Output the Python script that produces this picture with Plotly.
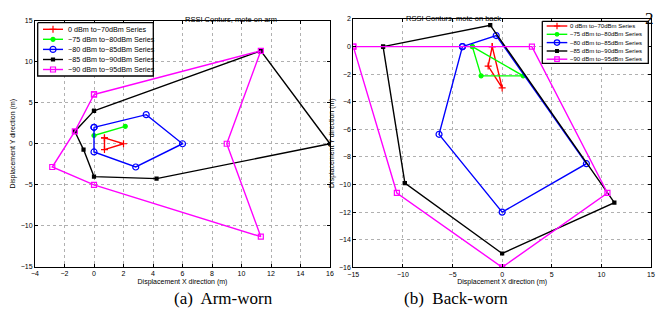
import plotly.graph_objects as go

# ---------------- data ----------------
series_names = ["0 dBm to\u221270dBm Series", "\u221275 dBm to\u221280dBm Series",
                "\u221280 dBm to\u221285dBm Series", "\u221285 dBm to\u221290dBm Series",
                "\u221290 dBm to\u221295dBm Series"]

# (a) arm-worn
arm_red_x = [0.71, 2.0, 0.71, 0.71]
arm_red_y = [0.71, 0.0, -0.71, 0.71]
arm_green_x = [0.0, 2.12]
arm_green_y = [1.0, 2.12]
arm_blue_x = [0.0, 3.54, 6.0, 2.83, 0.0, 0.0]
arm_blue_y = [2.0, 3.54, 0.0, -2.83, -1.0, 2.0]
arm_black_x = [0.0, 11.31, 16.0, 4.24, 0.0, -0.71, -1.3, 0.0]
arm_black_y = [4.0, 11.31, 0.0, -4.24, -4.0, -0.71, 1.5, 4.0]
arm_pink_x = [0.0, 11.31, 9.0, 11.31, 0.0, -2.83, -1.3, 0.0]
arm_pink_y = [6.0, 11.31, 0.0, -11.31, -5.0, -2.83, 1.5, 6.0]

# (b) back-worn
back_red_x = [-1.0, -1.41, 0.0, -1.0]
back_red_y = [0.0, -1.41, -3.0, 0.0]
back_green_x = [-3.0, -2.12, 2.12, -3.0]
back_green_y = [0.0, -2.12, -2.12, 0.0]
back_blue_x = [-4.0, -0.6, 8.49, 0.0, -6.36, -4.0]
back_blue_y = [0.0, 0.8, -8.49, -12.0, -6.36, 0.0]
back_black_x = [-12.0, -1.2, 11.31, 0.0, -9.8, -12.0]
back_black_y = [0.0, 1.55, -11.31, -15.0, -9.9, 0.0]
back_pink_x = [-15.0, 3.0, 10.61, 0.0, -10.61, -15.0]
back_pink_y = [0.0, 0.0, -10.61, -16.0, -10.61, 0.0]

arm_xticks = list(range(-4, 17, 2))
arm_yticks = list(range(-15, 16, 5))
back_xticks = list(range(-15, 16, 5))
back_yticks = list(range(-16, 3, 2))

# ---------------- styles ----------------
colors = ["#ff0000", "#00ff00", "#0000ff", "#000000", "#ff00ff"]
symbols = ["cross-thin-open", "circle", "circle-open", "square", "square-open"]
msizes = [5, 4, 6, 3, 5]
FONT = "Liberation Sans, Arial, sans-serif"
SERIF = "Liberation Serif, Times New Roman, serif"

# page places the figure 8px in from the window's top-left corner
OFF = 8
W, H = 668 - OFF, 325 - OFF


def px(x):
    return (x - OFF) / W


def py(y):
    return 1 - (y - OFF) / H


fig = go.Figure()

arm = [(arm_red_x, arm_red_y), (arm_green_x, arm_green_y), (arm_blue_x, arm_blue_y),
       (arm_black_x, arm_black_y), (arm_pink_x, arm_pink_y)]
back = [(back_red_x, back_red_y), (back_green_x, back_green_y), (back_blue_x, back_blue_y),
        (back_black_x, back_black_y), (back_pink_x, back_pink_y)]


def series_trace(xs, ys, i, xa, ya):
    return go.Scatter(x=xs, y=ys, mode="lines+markers", name=series_names[i],
                      line=dict(color=colors[i], width=1.4),
                      marker=dict(symbol=symbols[i], size=msizes[i], color=colors[i],
                                  line=dict(color=colors[i], width=1.2)),
                      xaxis=xa, yaxis=ya, showlegend=False)


for i, (xs, ys) in enumerate(arm):
    fig.add_trace(series_trace(xs, ys, i, "x", "y"))
for i, (xs, ys) in enumerate(back):
    fig.add_trace(series_trace(xs, ys, i, "x2", "y2"))


# ---------- compact MATLAB-style legends (drawn on a hidden pixel overlay) ----------
def add_legend(box, rows, lx0, lx1, tx, fsize, mscale):
    x0, y0, x1, y1 = box
    fig.add_trace(go.Scatter(x=[x0, x1, x1, x0, x0], y=[y0, y0, y1, y1, y0], mode="lines",
                             fill="toself", fillcolor="white",
                             line=dict(color="black", width=1.3),
                             xaxis="x3", yaxis="y3", hoverinfo="skip", showlegend=False))
    for i, yy in enumerate(rows):
        fig.add_trace(go.Scatter(x=[lx0, lx1], y=[yy, yy], mode="lines",
                                 line=dict(color=colors[i], width=1.4),
                                 xaxis="x3", yaxis="y3", hoverinfo="skip", showlegend=False))
        fig.add_trace(go.Scatter(x=[(lx0 + lx1) / 2], y=[yy], mode="markers",
                                 marker=dict(symbol=symbols[i], size=msizes[i] * mscale,
                                             color=colors[i],
                                             line=dict(color=colors[i], width=1.2)),
                                 xaxis="x3", yaxis="y3", hoverinfo="skip", showlegend=False))
        fig.add_annotation(text=series_names[i], x=tx, y=yy, xref="x3", yref="y3",
                           xanchor="left", yanchor="middle", showarrow=False,
                           font=dict(size=fsize, family=FONT, color="black"))


add_legend((37.7, 22.7, 153.3, 76.0), [29.3, 39.3, 49.4, 59.5, 69.5],
           43.0, 63.0, 65.5, 7.2, 1.0)
add_legend((542.3, 21.3, 648.3, 63.3), [26.0, 34.3, 42.6, 51.0, 59.2],
           546.7, 567.3, 567.8, 6.0, 0.9)

axis_common = dict(showline=True, mirror="ticks", linecolor="black", linewidth=1,
                   ticks="inside", ticklen=3, tickcolor="black", automargin=False,
                   showgrid=True, gridcolor="#b0b0b0", griddash="dot", gridwidth=1,
                   zeroline=False, tickfont=dict(size=7, color="black", family=FONT),
                   title_font=dict(size=7, color="black", family=FONT))

fig.update_layout(
    width=W, height=H,
    paper_bgcolor="white", plot_bgcolor="rgba(0,0,0,0)",
    margin=dict(l=0, r=0, t=0, b=0, autoexpand=False),
    font=dict(family=FONT, color="black"),
    showlegend=False,
    xaxis=dict(domain=[px(35), px(330)], range=[-4, 16], tickvals=arm_xticks,
               title=dict(text="Displacement X direction (m)", standoff=2), anchor="y",
               **axis_common),
    yaxis=dict(domain=[py(267), py(20.5)], range=[-15, 15], tickvals=arm_yticks,
               title=dict(text="Displacement Y direction (m)", standoff=4), anchor="x",
               **axis_common),
    xaxis2=dict(domain=[px(353.3), px(651)], range=[-15, 15], tickvals=back_xticks,
                title=dict(text="Displacement X direction (m)", standoff=2), anchor="y2",
                **axis_common),
    yaxis2=dict(domain=[py(267.3), py(19)], range=[-16, 2], tickvals=back_yticks,
                title=dict(text="Displacement Y direction (m)", standoff=3), anchor="x2",
                **axis_common),
    xaxis3=dict(domain=[0, 1], range=[OFF, 668], visible=False, anchor="y3", fixedrange=True,
                automargin=False),
    yaxis3=dict(domain=[0, 1], range=[325, OFF], visible=False, anchor="x3", fixedrange=True,
                automargin=False),
)

fig.add_annotation(text="RSSI Conturs, mote on arm", x=px(182.5), y=py(12.7),
                   xref="paper", yref="paper", showarrow=False,
                   font=dict(size=7.5, family=FONT, color="black"))
fig.add_annotation(text="RSSI Conturs, mote on back", x=px(502.5), y=py(11.7),
                   xref="paper", yref="paper", showarrow=False,
                   font=dict(size=7.5, family=FONT, color="black"))
fig.add_annotation(text="(a)  Arm-worn", x=px(172), y=py(310),
                   xref="paper", yref="paper", showarrow=False,
                   font=dict(size=17, family=SERIF, color="black"))
fig.add_annotation(text="(b)  Back-worn", x=px(510), y=py(310),
                   xref="paper", yref="paper", showarrow=False,
                   font=dict(size=17, family=SERIF, color="black"))
fig.add_annotation(text="2", x=px(655), y=1, yanchor="top", borderpad=0,
                   xref="paper", yref="paper", showarrow=False,
                   font=dict(size=17, family=SERIF, color="black"))

fig.write_html("out.html")
